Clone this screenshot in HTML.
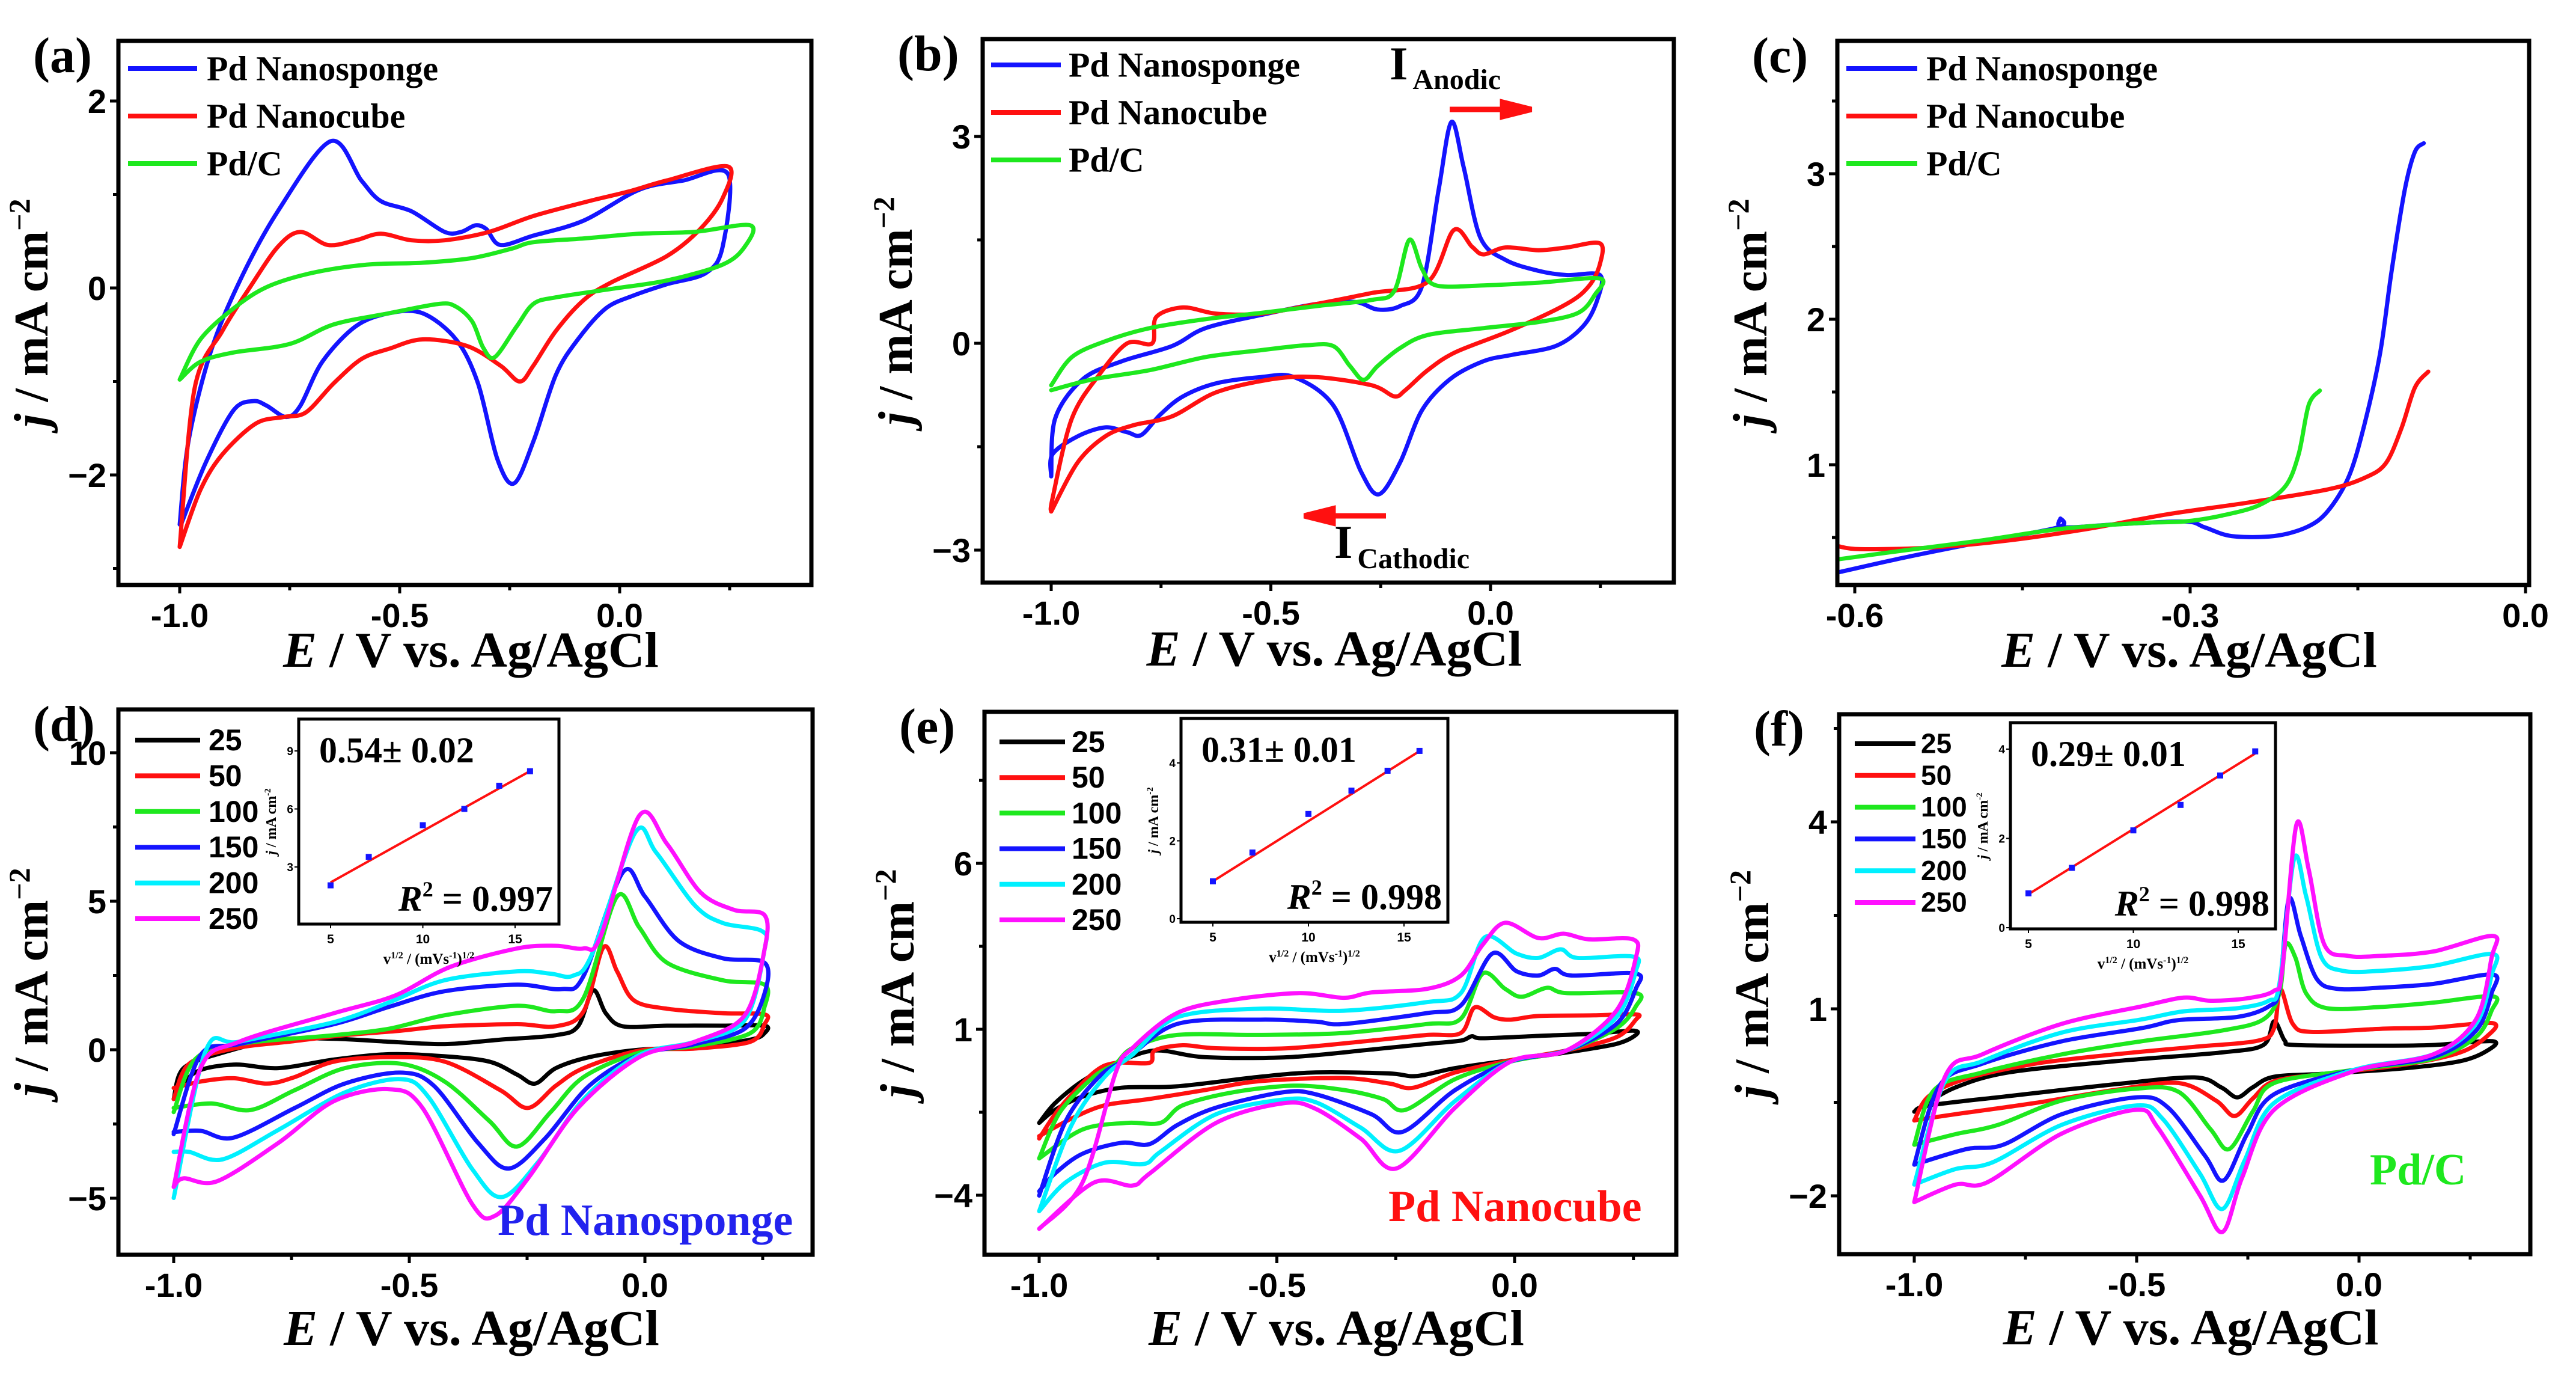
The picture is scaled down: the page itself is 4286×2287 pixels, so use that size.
<!DOCTYPE html>
<html><head><meta charset="utf-8"><title>CV panels</title>
<style>
html,body{margin:0;padding:0;background:#fff;}
svg{display:block;}
text{font-family:"Liberation Serif",serif;font-weight:bold;}
.tk{font-family:"Liberation Sans Narrow","Liberation Sans",sans-serif;font-weight:bold;}
.nar{font-family:"Liberation Sans Narrow","Liberation Sans",sans-serif;font-weight:bold;}
</style></head>
<body>
<svg id="fig" xmlns="http://www.w3.org/2000/svg" width="4286" height="2287" viewBox="0 0 4286 2287"></svg>
<script>
// ---------- DATA ----------
const panelLetters = ['(a)','(b)','(c)','(d)','(e)','(f)'];
const legendTop = ['Pd Nanosponge','Pd Nanocube','Pd/C'];
const scanRates = ['25','50','100','150','200','250'];
const cvXTicks = [-1.0,-0.5,0.0];
const cvXTickLabels = ['-1.0','-0.5','0.0'];
const cXTicks = [-0.6,-0.3,0.0];
const cXTickLabels = ['-0.6','-0.3','0.0'];
const aYTicks = [-2,0,2]; const aYTickLabels = ['\u22122','0','2'];
const bYTicks = [-3,0,3]; const bYTickLabels = ['\u22123','0','3'];
const cYTicks = [1,2,3]; const cYTickLabels = ['1','2','3'];
const dYTicks = [-5,0,5,10]; const dYTickLabels = ['\u22125','0','5','10'];
const eYTicks = [-4,1,6]; const eYTickLabels = ['\u22124','1','6'];
const fYTicks = [-2,1,4]; const fYTickLabels = ['\u22122','1','4'];

// (a)
const aSponge = [[-1,-2.53],[-0.98,-1.64],[-0.93,-0.69],[-0.865,0.06],[-0.777,0.82],[-0.657,1.57],[-0.587,1.15],[-0.543,0.93],[-0.473,0.82],[-0.398,0.60],[-0.36,0.60],[-0.328,0.67],[-0.303,0.63],[-0.271,0.46],[-0.196,0.56],[-0.082,0.72],[0.044,1.05],[0.145,1.15],[0.246,1.22],[0.234,0.44],[0.196,0.16],[0.107,0.04],[0.032,-0.08],[-0.032,-0.22],[-0.095,-0.55],[-0.145,-0.93],[-0.196,-1.64],[-0.24,-2.09],[-0.278,-1.83],[-0.322,-1.02],[-0.372,-0.55],[-0.448,-0.27],[-0.524,-0.27],[-0.6,-0.41],[-0.676,-0.79],[-0.726,-1.26],[-0.758,-1.38],[-0.802,-1.26],[-0.833,-1.21],[-0.878,-1.31],[-0.941,-1.87],[-0.997,-2.53]];
const aCube = [[-1,-2.77],[-0.966,-1.07],[-0.903,-0.46],[-0.84,0.01],[-0.777,0.44],[-0.726,0.60],[-0.663,0.46],[-0.6,0.51],[-0.543,0.58],[-0.473,0.51],[-0.398,0.51],[-0.297,0.60],[-0.196,0.77],[-0.069,0.93],[0.019,1.03],[0.107,1.15],[0.246,1.30],[0.234,0.96],[0.183,0.63],[0.107,0.34],[-0.019,0.06],[-0.082,-0.13],[-0.145,-0.46],[-0.196,-0.83],[-0.227,-1.0],[-0.271,-0.83],[-0.347,-0.62],[-0.448,-0.55],[-0.524,-0.65],[-0.587,-0.76],[-0.65,-1.02],[-0.713,-1.33],[-0.764,-1.38],[-0.827,-1.45],[-0.903,-1.78],[-0.953,-2.16],[-1,-2.77]];
const aPdC = [[-1,-0.98],[-0.953,-0.55],[-0.878,-0.22],[-0.802,0.01],[-0.7,0.16],[-0.574,0.25],[-0.448,0.27],[-0.335,0.32],[-0.246,0.42],[-0.196,0.49],[-0.082,0.53],[0.044,0.58],[0.17,0.60],[0.297,0.67],[0.284,0.44],[0.234,0.25],[0.107,0.08],[-0.019,-0.01],[-0.145,-0.10],[-0.196,-0.17],[-0.234,-0.41],[-0.284,-0.74],[-0.31,-0.64],[-0.335,-0.36],[-0.372,-0.20],[-0.41,-0.17],[-0.524,-0.27],[-0.65,-0.39],[-0.751,-0.60],[-0.878,-0.69],[-0.953,-0.79],[-1,-0.98]];
// (b)
const bSponge = [[-1,-1.93],[-0.991,-1.09],[-0.928,-0.52],[-0.839,-0.26],[-0.725,-0.04],[-0.649,0.22],[-0.523,0.41],[-0.396,0.57],[-0.308,0.60],[-0.257,0.49],[-0.206,0.54],[-0.156,0.83],[-0.118,2.23],[-0.089,3.21],[-0.061,2.55],[-0.023,1.53],[0.034,1.21],[0.11,1.05],[0.173,0.99],[0.249,0.99],[0.243,0.63],[0.211,0.25],[0.148,-0.04],[0.047,-0.17],[-0.016,-0.26],[-0.092,-0.52],[-0.156,-0.97],[-0.206,-1.73],[-0.254,-2.19],[-0.295,-1.86],[-0.358,-0.90],[-0.447,-0.49],[-0.523,-0.49],[-0.624,-0.58],[-0.7,-0.77],[-0.751,-1.03],[-0.795,-1.33],[-0.827,-1.29],[-0.877,-1.22],[-0.94,-1.35],[-0.997,-1.61],[-1,-1.93]];
const bCube = [[-1,-2.44],[-0.997,-2.25],[-0.953,-1.09],[-0.89,-0.45],[-0.827,0.0],[-0.77,0.0],[-0.761,0.38],[-0.7,0.52],[-0.624,0.43],[-0.523,0.43],[-0.396,0.57],[-0.27,0.73],[-0.143,0.89],[-0.084,1.64],[-0.042,1.40],[-0.016,1.29],[0.034,1.39],[0.11,1.35],[0.173,1.39],[0.249,1.45],[0.249,1.15],[0.224,0.83],[0.173,0.57],[0.047,0.19],[-0.08,-0.13],[-0.143,-0.39],[-0.194,-0.68],[-0.219,-0.77],[-0.27,-0.61],[-0.396,-0.49],[-0.497,-0.52],[-0.624,-0.71],[-0.725,-1.06],[-0.814,-1.19],[-0.877,-1.35],[-0.94,-1.73],[-1,-2.44]];
const bPdC = [[-1,-0.61],[-0.953,-0.2],[-0.877,0.03],[-0.776,0.22],[-0.649,0.35],[-0.523,0.44],[-0.396,0.54],[-0.27,0.63],[-0.219,0.76],[-0.185,1.50],[-0.156,1.08],[-0.124,0.84],[-0.016,0.84],[0.11,0.88],[0.249,0.94],[0.237,0.70],[0.199,0.44],[0.11,0.31],[-0.016,0.22],[-0.143,0.12],[-0.206,-0.07],[-0.257,-0.33],[-0.289,-0.53],[-0.32,-0.33],[-0.358,-0.04],[-0.422,-0.03],[-0.523,-0.10],[-0.649,-0.2],[-0.776,-0.39],[-0.903,-0.52],[-1,-0.68]];
// (c)
const cSponge = [[-0.615,0.26],[-0.557,0.36],[-0.486,0.47],[-0.418,0.57],[-0.416,0.63],[-0.414,0.57],[-0.367,0.59],[-0.305,0.61],[-0.287,0.57],[-0.263,0.51],[-0.225,0.51],[-0.196,0.57],[-0.177,0.68],[-0.158,0.92],[-0.144,1.28],[-0.13,1.77],[-0.12,2.32],[-0.108,2.89],[-0.099,3.15],[-0.091,3.21]];
const cCube = [[-0.615,0.44],[-0.595,0.42],[-0.533,0.43],[-0.462,0.48],[-0.391,0.56],[-0.32,0.66],[-0.248,0.74],[-0.177,0.83],[-0.144,0.91],[-0.125,1.01],[-0.111,1.25],[-0.099,1.53],[-0.087,1.64]];
const cPdC = [[-0.615,0.35],[-0.557,0.41],[-0.486,0.48],[-0.415,0.56],[-0.344,0.60],[-0.305,0.61],[-0.272,0.65],[-0.239,0.72],[-0.215,0.85],[-0.203,1.07],[-0.194,1.41],[-0.184,1.51]];
// (d)
const d25 = [[-1,-1.66],[-0.979,-0.62],[-0.896,-0.10],[-0.778,0.34],[-0.66,0.37],[-0.542,0.27],[-0.425,0.19],[-0.307,0.34],[-0.189,0.49],[-0.142,0.79],[-0.11,2.0],[-0.083,1.23],[-0.047,0.79],[0.047,0.81],[0.165,0.81],[0.254,0.81],[0.254,0.56],[0.224,0.34],[0.106,0.09],[-0.012,0],[-0.118,-0.25],[-0.189,-0.62],[-0.233,-1.14],[-0.271,-0.84],[-0.33,-0.4],[-0.425,-0.22],[-0.542,-0.15],[-0.66,-0.33],[-0.778,-0.62],[-0.873,-0.50],[-0.955,-0.77],[-1,-1.66]];
const d50 = [[-1,-1.66],[-0.967,-0.47],[-0.873,0.04],[-0.755,0.27],[-0.637,0.49],[-0.519,0.64],[-0.425,0.79],[-0.271,0.86],[-0.189,0.79],[-0.13,1.30],[-0.088,3.45],[-0.059,2.64],[-0.024,1.67],[0.047,1.38],[0.165,1.23],[0.254,1.19],[0.254,0.86],[0.224,0.27],[0.106,0.04],[-0.012,-0.03],[-0.13,-0.62],[-0.189,-1.21],[-0.248,-1.96],[-0.307,-1.36],[-0.425,-0.4],[-0.542,-0.25],[-0.66,-0.4],[-0.743,-0.92],[-0.802,-1.14],[-0.873,-0.96],[-0.943,-1.07],[-1,-1.29]];
const d100 = [[-1,-2.1],[-0.955,-0.33],[-0.861,0.19],[-0.66,0.49],[-0.542,0.71],[-0.425,1.16],[-0.271,1.48],[-0.189,1.30],[-0.13,1.75],[-0.059,5.16],[-0.012,4.12],[0.047,2.93],[0.165,2.34],[0.254,2.19],[0.254,1.45],[0.224,0.56],[0.106,0.12],[-0.012,-0.1],[-0.13,-0.92],[-0.2,-2.1],[-0.271,-3.26],[-0.33,-2.4],[-0.425,-1.07],[-0.519,-0.47],[-0.637,-0.62],[-0.743,-1.36],[-0.837,-2.03],[-0.92,-1.81],[-1,-1.96]];
const d150 = [[-1,-2.84],[-0.943,-0.18],[-0.861,0.19],[-0.66,0.86],[-0.542,1.45],[-0.425,1.97],[-0.271,2.19],[-0.177,2.04],[-0.13,2.49],[-0.047,5.97],[0.0,5.16],[0.071,3.67],[0.165,3.08],[0.254,2.93],[0.254,1.90],[0.212,0.71],[0.106,0.19],[-0.012,-0.18],[-0.118,-1.21],[-0.212,-2.99],[-0.289,-4.0],[-0.354,-3.14],[-0.448,-1.21],[-0.519,-0.77],[-0.637,-1.14],[-0.743,-1.96],[-0.873,-2.96],[-0.943,-2.73],[-1,-2.77]];
const d200 = [[-1,-4.99],[-0.932,-0.03],[-0.861,0.27],[-0.66,0.93],[-0.542,1.6],[-0.425,2.34],[-0.271,2.64],[-0.2,2.56],[-0.153,2.49],[-0.112,3.23],[-0.021,7.30],[0.024,6.64],[0.106,4.86],[0.165,4.27],[0.248,4.0],[0.254,3.38],[0.212,1.0],[0.106,0.27],[-0.012,-0.18],[-0.13,-1.66],[-0.224,-3.73],[-0.303,-4.96],[-0.366,-4.03],[-0.46,-1.58],[-0.519,-0.99],[-0.637,-1.44],[-0.778,-2.7],[-0.896,-3.69],[-0.967,-3.44],[-1,-3.44]];
const d250 = [[-1,-4.62],[-0.943,-0.62],[-0.861,0.27],[-0.66,1.23],[-0.531,1.82],[-0.413,2.79],[-0.271,3.41],[-0.189,3.5],[-0.13,3.41],[-0.094,3.82],[-0.012,7.88],[0.047,6.93],[0.118,5.3],[0.189,4.71],[0.254,4.53],[0.254,3.38],[0.212,1.16],[0.106,0.27],[-0.012,-0.25],[-0.142,-1.96],[-0.248,-4.33],[-0.318,-5.59],[-0.366,-5.21],[-0.472,-1.96],[-0.542,-1.33],[-0.66,-1.73],[-0.778,-3.14],[-0.908,-4.43],[-0.979,-4.33],[-1,-4.62]];
// (e)
const e25 = [[-1,-1.82],[-0.967,-1.23],[-0.909,-0.56],[-0.839,-0.03],[-0.757,0.36],[-0.651,0.16],[-0.476,0.16],[-0.301,0.39],[-0.184,0.56],[-0.113,0.66],[-0.09,0.79],[-0.067,0.73],[0.05,0.80],[0.167,0.87],[0.249,0.96],[0.255,0.83],[0.214,0.56],[0.109,0.30],[-0.008,0.07],[-0.125,-0.17],[-0.207,-0.41],[-0.265,-0.33],[-0.418,-0.30],[-0.535,-0.43],[-0.71,-0.72],[-0.827,-0.76],[-0.909,-1.03],[-0.967,-1.43],[-1,-1.82]];
const e50 = [[-1,-2.29],[-0.956,-1.36],[-0.885,-0.3],[-0.839,-0.01],[-0.768,-0.01],[-0.757,0.36],[-0.698,0.52],[-0.628,0.43],[-0.476,0.43],[-0.301,0.66],[-0.184,0.83],[-0.113,0.89],[-0.084,1.66],[-0.043,1.36],[-0.008,1.29],[0.05,1.40],[0.167,1.42],[0.255,1.45],[0.255,1.29],[0.214,0.76],[0.109,0.36],[-0.008,0.07],[-0.125,-0.30],[-0.213,-0.76],[-0.265,-0.63],[-0.359,-0.47],[-0.535,-0.56],[-0.651,-0.83],[-0.768,-1.10],[-0.862,-1.29],[-0.932,-1.69],[-1,-2.22]];
const e100 = [[-1,-2.89],[-0.956,-1.49],[-0.885,-0.43],[-0.839,-0.03],[-0.804,0.43],[-0.71,0.83],[-0.535,0.83],[-0.359,0.89],[-0.184,1.16],[-0.113,1.32],[-0.067,2.68],[-0.02,2.22],[0.015,1.98],[0.068,2.25],[0.109,2.09],[0.255,2.09],[0.255,1.69],[0.214,1.03],[0.109,0.36],[-0.008,0.03],[-0.125,-0.5],[-0.23,-1.43],[-0.277,-1.1],[-0.359,-0.83],[-0.465,-0.70],[-0.593,-0.90],[-0.698,-1.29],[-0.745,-1.82],[-0.815,-1.82],[-0.909,-2.02],[-1,-2.89]];
const e150 = [[-1,-4.01],[-0.944,-1.76],[-0.874,-0.43],[-0.815,0.12],[-0.71,1.16],[-0.535,1.29],[-0.418,1.23],[-0.359,1.16],[-0.184,1.49],[-0.113,1.72],[-0.047,3.28],[0.004,2.75],[0.05,2.62],[0.085,2.82],[0.12,2.62],[0.255,2.68],[0.255,2.22],[0.214,1.16],[0.109,0.36],[-0.008,0.03],[-0.125,-0.83],[-0.236,-2.09],[-0.301,-1.56],[-0.418,-0.96],[-0.488,-0.9],[-0.628,-1.36],[-0.71,-1.89],[-0.768,-2.46],[-0.827,-2.42],[-0.909,-2.75],[-0.967,-3.35],[-1,-3.88]];
const e200 = [[-1,-4.48],[-0.932,-1.89],[-0.862,-0.43],[-0.804,0.23],[-0.71,1.36],[-0.535,1.62],[-0.359,1.56],[-0.184,1.82],[-0.113,2.09],[-0.063,3.77],[0.004,3.28],[0.05,3.15],[0.097,3.41],[0.132,3.15],[0.249,3.19],[0.255,2.75],[0.214,1.36],[0.109,0.36],[-0.008,0.03],[-0.125,-1.16],[-0.242,-2.66],[-0.324,-1.96],[-0.418,-1.20],[-0.488,-1.12],[-0.628,-1.56],[-0.745,-2.69],[-0.78,-3.06],[-0.862,-3.02],[-0.944,-3.61],[-1,-4.48]];
const e250 = [[-1,-5.01],[-0.909,-3.62],[-0.839,-0.3],[-0.804,0.43],[-0.71,1.49],[-0.593,1.89],[-0.453,2.09],[-0.359,1.95],[-0.301,2.11],[-0.184,2.22],[-0.113,2.62],[-0.067,3.55],[-0.02,4.21],[0.05,3.75],[0.103,3.88],[0.156,3.71],[0.249,3.71],[0.255,3.15],[0.214,1.56],[0.109,0.36],[-0.008,0.03],[-0.125,-1.36],[-0.248,-3.19],[-0.324,-2.29],[-0.418,-1.40],[-0.488,-1.23],[-0.628,-1.82],[-0.768,-3.35],[-0.804,-3.71],[-0.885,-3.62],[-1,-5.01]];
// (f)
const f25 = [[-1,-0.65],[-0.979,-0.55],[-0.907,-0.26],[-0.788,-0.02],[-0.549,0.16],[-0.31,0.30],[-0.215,0.42],[-0.191,0.80],[-0.167,0.49],[-0.143,0.42],[0.048,0.41],[0.167,0.42],[0.301,0.48],[0.286,0.32],[0.227,0.16],[0.107,0.05],[-0.072,-0.04],[-0.191,-0.09],[-0.239,-0.26],[-0.274,-0.42],[-0.31,-0.26],[-0.37,-0.10],[-0.549,-0.21],[-0.788,-0.40],[-0.967,-0.55],[-1,-0.65]];
const f50 = [[-1,-0.79],[-0.967,-0.40],[-0.883,-0.12],[-0.728,0.12],[-0.549,0.27],[-0.37,0.39],[-0.227,0.49],[-0.191,0.69],[-0.177,1.32],[-0.149,0.76],[-0.107,0.63],[0.048,0.68],[0.167,0.70],[0.301,0.77],[0.286,0.55],[0.227,0.30],[0.107,0.11],[-0.072,-0.04],[-0.191,-0.16],[-0.239,-0.44],[-0.28,-0.72],[-0.322,-0.47],[-0.406,-0.19],[-0.549,-0.30],[-0.728,-0.51],[-0.907,-0.69],[-1,-0.79]];
const f100 = [[-1,-1.18],[-0.955,-0.30],[-0.847,-0.02],[-0.668,0.27],[-0.489,0.48],[-0.31,0.65],[-0.215,0.83],[-0.179,1.25],[-0.165,2.03],[-0.143,1.82],[-0.119,1.25],[-0.072,1.01],[0.048,1.03],[0.167,1.10],[0.301,1.20],[0.298,0.97],[0.263,0.55],[0.167,0.20],[-0.012,0.02],[-0.191,-0.19],[-0.239,-0.65],[-0.292,-1.25],[-0.334,-0.93],[-0.406,-0.33],[-0.501,-0.28],[-0.668,-0.47],[-0.811,-0.86],[-0.907,-1.01],[-1,-1.18]];
const f150 = [[-1,-1.50],[-0.943,-0.23],[-0.847,0.12],[-0.668,0.48],[-0.489,0.69],[-0.406,0.82],[-0.274,0.87],[-0.203,1.04],[-0.179,1.32],[-0.158,2.76],[-0.131,2.17],[-0.095,1.48],[-0.048,1.32],[0.048,1.34],[0.167,1.40],[0.301,1.55],[0.298,1.25],[0.263,0.65],[0.167,0.23],[-0.012,0.02],[-0.191,-0.37],[-0.251,-1.0],[-0.304,-1.75],[-0.346,-1.36],[-0.43,-0.58],[-0.501,-0.42],[-0.668,-0.69],[-0.8,-1.18],[-0.883,-1.25],[-1,-1.50]];
const f200 = [[-1,-1.82],[-0.931,-0.16],[-0.847,0.16],[-0.668,0.62],[-0.489,0.83],[-0.394,0.96],[-0.274,1.01],[-0.203,1.13],[-0.179,1.40],[-0.146,3.41],[-0.119,2.81],[-0.084,1.82],[-0.036,1.61],[0.048,1.61],[0.167,1.69],[0.301,1.88],[0.298,1.54],[0.263,0.76],[0.167,0.27],[-0.012,0.02],[-0.191,-0.51],[-0.257,-1.43],[-0.307,-2.21],[-0.358,-1.64],[-0.442,-0.76],[-0.501,-0.55],[-0.668,-0.86],[-0.823,-1.46],[-0.907,-1.57],[-1,-1.82]];
const f250 = [[-1,-2.10],[-0.931,-0.09],[-0.847,0.27],[-0.668,0.76],[-0.489,1.04],[-0.394,1.18],[-0.334,1.13],[-0.251,1.17],[-0.191,1.29],[-0.173,1.61],[-0.141,3.95],[-0.113,3.23],[-0.078,2.03],[-0.024,1.85],[0.048,1.85],[0.167,1.92],[0.301,2.17],[0.298,1.82],[0.263,0.83],[0.167,0.27],[-0.012,0.0],[-0.191,-0.62],[-0.263,-1.71],[-0.307,-2.58],[-0.358,-1.99],[-0.453,-0.90],[-0.501,-0.62],[-0.668,-1.0],[-0.835,-1.78],[-0.907,-1.82],[-1,-2.10]];
// insets
const insetX = [5, 7.07, 10, 12.25, 14.14, 15.81];
const dInsetY = [2.05, 3.52, 5.16, 6.0, 7.2, 7.95];
const eInsetY = [0.96, 1.70, 2.69, 3.29, 3.80, 4.31];
const fInsetY = [0.77, 1.34, 2.18, 2.75, 3.41, 3.95];
const dFit = [[5,2.2],[15.8,7.95]];
const eFit = [[5,0.96],[15.8,4.30]];
const fFit = [[5,0.75],[15.8,3.90]];
const insetXTicks = [5,10,15];
const dInsetYTicks = [3,6,9];
const eInsetYTicks = [0,2,4];
const fInsetYTicks = [0,2,4];
const dSlope = '0.54\u00b1 0.02'; const eSlope = '0.31\u00b1 0.01'; const fSlope = '0.29\u00b1 0.01';
const dR2 = '0.997'; const eR2 = '0.998'; const fR2 = '0.998';

// ---------- DRAW ----------
const NS='http://www.w3.org/2000/svg';
const svg=document.getElementById('fig');
function el(tag, attrs, parent){const e=document.createElementNS(NS,tag);for(const k in attrs)e.setAttribute(k,attrs[k]);(parent||svg).appendChild(e);return e;}
function lin(v0,p0,v1,p1){return v=>p0+(v-v0)*(p1-p0)/(v1-v0);}
const COL3=['#1414ff','#ff1010','#1ee81e'];
const COL6=['#000000','#ff1010','#1ee81e','#1414ff','#00f0ff','#ff10ff'];

function smoothPath(P){
  if(P.length<3) return P.map((p,i)=>(i?'L':'M')+p[0].toFixed(1)+' '+p[1].toFixed(1)).join(' ');
  let d='M'+P[0][0].toFixed(1)+' '+P[0][1].toFixed(1);
  const k=0.16;
  for(let i=0;i<P.length-1;i++){
    const p0=P[Math.max(0,i-1)],p1=P[i],p2=P[i+1],p3=P[Math.min(P.length-1,i+2)];
    const c1=[p1[0]+(p2[0]-p0[0])*k,p1[1]+(p2[1]-p0[1])*k];
    const c2=[p2[0]-(p3[0]-p1[0])*k,p2[1]-(p3[1]-p1[1])*k];
    d+=' C'+c1[0].toFixed(1)+' '+c1[1].toFixed(1)+' '+c2[0].toFixed(1)+' '+c2[1].toFixed(1)+' '+p2[0].toFixed(1)+' '+p2[1].toFixed(1);
  }
  return d;
}
function drawCurve(g, pts, sx, sy, color, w, name){
  const P=pts.map(p=>[sx(p[0]),sy(p[1])]);
  const p=el('path',{d:smoothPath(P),fill:'none',stroke:color,'stroke-width':w,'stroke-linejoin':'round','stroke-linecap':'round'},g);
  
  
}

function panel(cfg){
  const g=el('g',{});
  
  
  const sx=lin(cfg.xv[0],cfg.xp[0],cfg.xv[1],cfg.xp[1]);
  const sy=lin(cfg.yv[0],cfg.yp[0],cfg.yv[1],cfg.yp[1]);
  const clip=el('clipPath',{id:'c'+cfg.id},g);
  el('rect',{x:cfg.L,y:cfg.T,width:cfg.R-cfg.L,height:cfg.B-cfg.T},clip);
  const cg=el('g',{'clip-path':'url(#c'+cfg.id+')'},g);
  cfg.series.forEach((s,i)=>drawCurve(cg,s,sx,sy,cfg.colors[i],7,cfg.id+'-curve-'+cfg.names[i]));
  const fr=el('rect',{x:cfg.L,y:cfg.T,width:cfg.R-cfg.L,height:cfg.B-cfg.T,fill:'none',stroke:'#000','stroke-width':7},g);
  
  
  cfg.xt.forEach((v,i)=>{
    const x=sx(v);
    el('line',{x1:x,y1:cfg.B,x2:x,y2:cfg.B+14,stroke:'#000','stroke-width':5},g);
    const t=el('text',{x:x,y:cfg.B+70,'text-anchor':'middle','font-size':56,class:'tk'},g);
    t.textContent=cfg.xtl[i];
    
    
  });
  cfg.xm.forEach(v=>{const x=sx(v);el('line',{x1:x,y1:cfg.B,x2:x,y2:cfg.B+9,stroke:'#000','stroke-width':5},g);});
  cfg.yt.forEach((v,i)=>{
    const y=sy(v);
    el('line',{x1:cfg.L-14,y1:y,x2:cfg.L,y2:y,stroke:'#000','stroke-width':5},g);
    const t=el('text',{x:cfg.L-20,y:y+20,'text-anchor':'end','font-size':56,class:'tk'},g);
    t.textContent=cfg.ytl[i];
    
    
  });
  cfg.ym.forEach(v=>{const y=sy(v);el('line',{x1:cfg.L-9,y1:y,x2:cfg.L,y2:y,stroke:'#000','stroke-width':5},g);});
  const xt=el('text',{x:(cfg.L+cfg.R)/2+10,y:cfg.B+cfg.tdy,'text-anchor':'middle','font-size':84},g);
  xt.innerHTML='<tspan font-style="italic">E</tspan> / V vs. Ag/AgCl';
  
  
  const cy=(cfg.T+cfg.B)/2;
  const yt=el('text',{x:cfg.L-118,y:cy,'text-anchor':'middle','font-size':80,transform:'rotate(-90 '+(cfg.L-118)+' '+cy+')'},g);
  yt.innerHTML='<tspan font-style="italic">j</tspan> / mA cm<tspan dy="-30" font-size="50">\u22122</tspan>';
  
  
  const pl=el('text',{x:cfg.L-142,y:cfg.T+52,'font-size':84},g);
  pl.textContent=cfg.letter;
  
  
  cfg.leg.labels.forEach((lab,i)=>{
    const y=cfg.leg.y0+i*cfg.leg.dy;
    const ln=el('line',{x1:cfg.leg.x1,y1:y,x2:cfg.leg.x2,y2:y,stroke:cfg.colors[i],'stroke-width':8},g);
    
    
    const t=el('text',{x:cfg.leg.tx,y:y+cfg.leg.fs*0.34,'font-size':cfg.leg.fs,class:cfg.leg.cls||''},g);
    t.textContent=lab;
    
    
  });
  return {g,sx,sy};
}

function inset(cfg){
  const g=el('g',{});
  
  
  el('rect',{x:cfg.L,y:cfg.T,width:cfg.R-cfg.L,height:cfg.B-cfg.T,fill:'#fff',stroke:'#000','stroke-width':5},g);
  const sx=lin(cfg.xv[0],cfg.xp[0],cfg.xv[1],cfg.xp[1]);
  const sy=lin(cfg.yv[0],cfg.yp[0],cfg.yv[1],cfg.yp[1]);
  insetXTicks.forEach(v=>{const x=sx(v);el('line',{x1:x,y1:cfg.B,x2:x,y2:cfg.B+7,stroke:'#000','stroke-width':2},g);
    const t=el('text',{x:x,y:cfg.B+32,'text-anchor':'middle','font-size':21,class:'tk','font-weight':'normal'},g);t.textContent=v;
    
    });
  cfg.yt.forEach(v=>{const y=sy(v);el('line',{x1:cfg.L-7,y1:y,x2:cfg.L,y2:y,stroke:'#000','stroke-width':2},g);
    const t=el('text',{x:cfg.L-9,y:y+7,'text-anchor':'end','font-size':19,class:'tk','font-weight':'normal'},g);t.textContent=v;
    
    });
  const fit=el('line',{x1:sx(cfg.fit[0][0]),y1:sy(cfg.fit[0][1]),x2:sx(cfg.fit[1][0]),y2:sy(cfg.fit[1][1]),stroke:'#ff1010','stroke-width':4},g);
  
  
  insetX.forEach((xv,i)=>{const r=el('rect',{x:sx(xv)-5,y:sy(cfg.ys[i])-5,width:10,height:10,fill:'#1414ff'},g);
    
    });
  const s=el('text',{x:cfg.L+34,y:cfg.T+72,'font-size':60},g);s.textContent=cfg.slope;
  
  
  const r2=el('text',{x:cfg.R-10,y:cfg.B-22,'text-anchor':'end','font-size':60},g);
  r2.innerHTML='<tspan font-style="italic">R</tspan><tspan dy="-24" font-size="36">2</tspan><tspan dy="24"> = '+cfg.r2+'</tspan>';
  
  
  const xl=el('text',{x:(cfg.L+cfg.R)/2,y:cfg.B+66,'text-anchor':'middle','font-size':25},g);
  xl.innerHTML='v<tspan dy="-9" font-size="16">1/2</tspan><tspan dy="9"> / (mVs</tspan><tspan dy="-9" font-size="16">-1</tspan><tspan dy="9">)</tspan><tspan dy="-9" font-size="16">1/2</tspan>';
  
  
  const cy=(cfg.T+cfg.B)/2; const lx=cfg.L-38;
  const yl=el('text',{x:lx,y:cy,'text-anchor':'middle','font-size':24,transform:'rotate(-90 '+lx+' '+cy+')'},g);
  yl.innerHTML='<tspan font-style="italic">j</tspan> / mA cm<tspan dy="-9" font-size="15">-2</tspan>';
  
  
}

const legTopFs=58;
panel({id:'a',name:'panel-a',letter:panelLetters[0],L:197,T:68,R:1350,B:973,tdy:136,xv:[-1,0],xp:[299,1031],yv:[0,2],yp:[479,168],
  series:[aSponge,aCube,aPdC],colors:COL3,names:['sponge','cube','pdc'],
  xt:cvXTicks,xtl:cvXTickLabels,xm:[-0.75,-0.25,0.25],yt:aYTicks,ytl:aYTickLabels,ym:[-3,-1,1],
  leg:{labels:legendTop,x1:213,x2:328,tx:344,y0:114,dy:79,fs:legTopFs}});
panel({id:'b',name:'panel-b',letter:panelLetters[1],L:1635,T:65,R:2785,B:969,tdy:138,xv:[-1,0],xp:[1749,2480],yv:[0,3],yp:[571,227],
  series:[bSponge,bCube,bPdC],colors:COL3,names:['sponge','cube','pdc'],
  xt:cvXTicks,xtl:cvXTickLabels,xm:[-0.75,-0.25,0.25],yt:bYTicks,ytl:bYTickLabels,ym:[-1.5,1.5],
  leg:{labels:legendTop,x1:1649,x2:1765,tx:1778,y0:108,dy:79,fs:legTopFs}});
panel({id:'c',name:'panel-c',letter:panelLetters[2],L:3057,T:68,R:4208,B:973,tdy:136,xv:[-0.6,0],xp:[3086,4202],yv:[1,3],yp:[773,289],
  series:[cSponge,cCube,cPdC],colors:COL3,names:['sponge','cube','pdc'],
  xt:cXTicks,xtl:cXTickLabels,xm:[-0.45,-0.15],yt:cYTicks,ytl:cYTickLabels,ym:[0.5,1.5,2.5,3.5],
  leg:{labels:legendTop,x1:3072,x2:3190,tx:3205,y0:114,dy:79,fs:legTopFs}});
panel({id:'d',name:'panel-d',letter:panelLetters[3],L:197,T:1180,R:1352,B:2087,tdy:150,xv:[-1,0],xp:[289,1073],yv:[0,10],yp:[1746,1252],
  series:[d25,d50,d100,d150,d200,d250],colors:COL6,names:scanRates,
  xt:cvXTicks,xtl:cvXTickLabels,xm:[-0.75,-0.25,0.25],yt:dYTicks,ytl:dYTickLabels,ym:[-2.5,2.5,7.5],
  leg:{labels:scanRates,x1:225,x2:333,tx:347,y0:1231,dy:59.4,fs:50,cls:'nar'}});
panel({id:'e',name:'panel-e',letter:panelLetters[4],L:1638,T:1184,R:2789,B:2087,tdy:150,xv:[-1,0],xp:[1729,2520],yv:[1,6],yp:[1712,1436],
  series:[e25,e50,e100,e150,e200,e250],colors:COL6,names:scanRates,
  xt:cvXTicks,xtl:cvXTickLabels,xm:[-0.75,-0.25,0.25],yt:eYTicks,ytl:eYTickLabels,ym:[-1.5,3.5,8.5],
  leg:{labels:scanRates,x1:1663,x2:1772,tx:1783,y0:1234,dy:59.2,fs:50,cls:'nar'}});
panel({id:'f',name:'panel-f',letter:panelLetters[5],L:3060,T:1188,R:4210,B:2086,tdy:150,xv:[-1,0],xp:[3185,3925],yv:[1,4],yp:[1678,1367],
  series:[f25,f50,f100,f150,f200,f250],colors:COL6,names:scanRates,
  xt:cvXTicks,xtl:cvXTickLabels,xm:[-0.75,-0.25,0.25],yt:fYTicks,ytl:fYTickLabels,ym:[-0.5,2.5,5.5],
  leg:{labels:scanRates,x1:3086,x2:3187,tx:3196,y0:1237,dy:52.8,fs:46,cls:'nar'}});

inset({id:'d',L:497,T:1196,R:930,B:1537,xv:[5,15],xp:[550,857],yv:[3,9],yp:[1442,1249],yt:dInsetYTicks,ys:dInsetY,fit:dFit,slope:dSlope,r2:dR2});
inset({id:'e',L:1965,T:1195,R:2409,B:1534,xv:[5,15],xp:[2018,2336],yv:[0,4],yp:[1528,1269],yt:eInsetYTicks,ys:eInsetY,fit:eFit,slope:eSlope,r2:eR2});
inset({id:'f',L:3345,T:1202,R:3786,B:1545,xv:[5,15],xp:[3375,3724],yv:[0,4],yp:[1543,1246],yt:fInsetYTicks,ys:fInsetY,fit:fFit,slope:fSlope,r2:fR2});

function label(txt,x,y,col,name){const t=el('text',{x:x,y:y,'font-size':74,fill:col});t.textContent=txt;
  
  }
label('Pd Nanosponge',828,2054,'#2222ee','sample-label-nanosponge');
label('Pd Nanocube',2310,2031,'#ff1010','sample-label-nanocube');
label('Pd/C',3943,1970,'#1ee81e','sample-label-pdc');

const an=el('text',{x:2312,y:132,'font-size':78});
an.innerHTML='I<tspan font-size="48" dy="16" dx="8">Anodic</tspan>';


const ca=el('text',{x:2220,y:928,'font-size':78});
ca.innerHTML='I<tspan font-size="48" dy="17" dx="8">Cathodic</tspan>';


const ar1=el('path',{d:'M2412 182 L2520 182 M2500 170 L2548 182 L2500 194 Z',stroke:'#ff1010','stroke-width':9,fill:'#ff1010'});


const ar2=el('path',{d:'M2306 858 L2198 858 M2218 846 L2170 858 L2218 870 Z',stroke:'#ff1010','stroke-width':9,fill:'#ff1010'});


</script>
</body></html>
